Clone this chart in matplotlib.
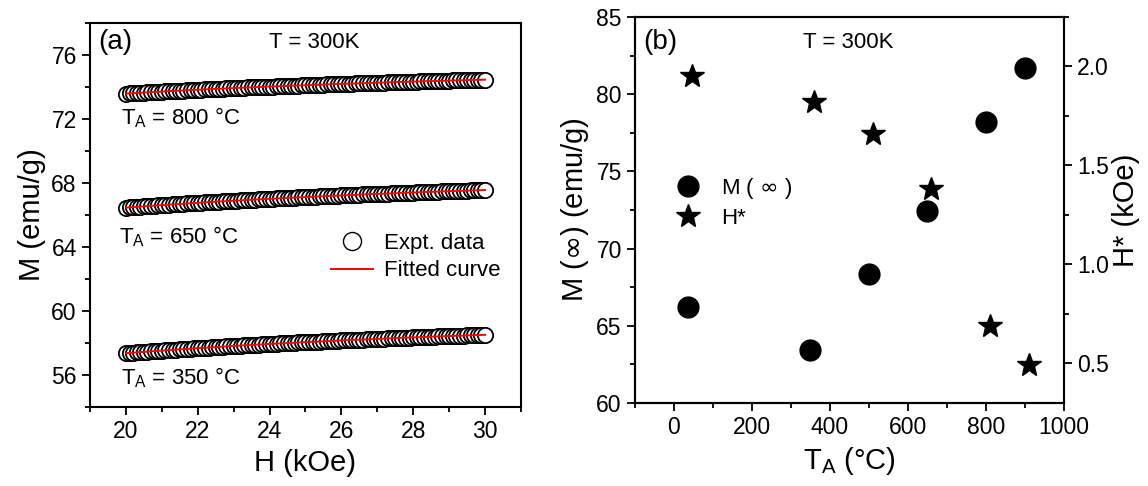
import numpy as np
import matplotlib
matplotlib.use('Agg')
import matplotlib.pyplot as plt
from matplotlib.ticker import MultipleLocator

plt.rcParams['font.family'] = ['Liberation Sans', 'DejaVu Sans']

# panel (a): M vs H at 300 K, field grid 20.0 ... 30.0 kOe in 0.1 steps
H = np.round(np.arange(200, 301) / 10.0, 1)

M_800 = [73.58, 73.59, 73.61, 73.62, 73.63, 73.64, 73.66, 73.67, 73.68, 73.69,
         73.70, 73.72, 73.73, 73.74, 73.75, 73.76, 73.77, 73.78, 73.79, 73.81,
         73.82, 73.83, 73.84, 73.85, 73.86, 73.87, 73.88, 73.89, 73.90, 73.91,
         73.92, 73.93, 73.94, 73.95, 73.96, 73.97, 73.98, 73.99, 74.00, 74.01,
         74.02, 74.02, 74.03, 74.04, 74.05, 74.06, 74.07, 74.08, 74.08, 74.09,
         74.10, 74.11, 74.12, 74.13, 74.13, 74.14, 74.15, 74.16, 74.17, 74.17,
         74.18, 74.19, 74.20, 74.20, 74.21, 74.22, 74.23, 74.23, 74.24, 74.25,
         74.26, 74.26, 74.27, 74.28, 74.28, 74.29, 74.30, 74.30, 74.31, 74.32,
         74.33, 74.33, 74.34, 74.35, 74.35, 74.36, 74.36, 74.37, 74.38, 74.38,
         74.39, 74.40, 74.40, 74.41, 74.41, 74.42, 74.43, 74.43, 74.44, 74.44,
         74.45]

M_650 = [66.45, 66.47, 66.48, 66.50, 66.51, 66.53, 66.54, 66.56, 66.58, 66.59,
         66.61, 66.62, 66.64, 66.65, 66.66, 66.68, 66.69, 66.71, 66.72, 66.74,
         66.75, 66.76, 66.78, 66.79, 66.80, 66.82, 66.83, 66.84, 66.85, 66.87,
         66.88, 66.89, 66.90, 66.92, 66.93, 66.94, 66.95, 66.96, 66.98, 66.99,
         67.00, 67.01, 67.02, 67.03, 67.04, 67.06, 67.07, 67.08, 67.09, 67.10,
         67.11, 67.12, 67.13, 67.14, 67.15, 67.16, 67.17, 67.18, 67.19, 67.20,
         67.21, 67.22, 67.23, 67.24, 67.25, 67.26, 67.27, 67.28, 67.29, 67.30,
         67.31, 67.31, 67.32, 67.33, 67.34, 67.35, 67.36, 67.37, 67.38, 67.38,
         67.39, 67.40, 67.41, 67.42, 67.43, 67.43, 67.44, 67.45, 67.46, 67.47,
         67.47, 67.48, 67.49, 67.50, 67.50, 67.51, 67.52, 67.53, 67.53, 67.54,
         67.55]

M_350 = [57.35, 57.37, 57.38, 57.40, 57.42, 57.43, 57.45, 57.47, 57.48, 57.50,
         57.51, 57.53, 57.54, 57.56, 57.57, 57.59, 57.60, 57.62, 57.63, 57.65,
         57.66, 57.68, 57.69, 57.70, 57.72, 57.73, 57.75, 57.76, 57.77, 57.79,
         57.80, 57.81, 57.83, 57.84, 57.85, 57.86, 57.88, 57.89, 57.90, 57.91,
         57.93, 57.94, 57.95, 57.96, 57.97, 57.98, 57.99, 58.01, 58.02, 58.03,
         58.04, 58.05, 58.06, 58.07, 58.08, 58.09, 58.10, 58.11, 58.12, 58.14,
         58.15, 58.16, 58.17, 58.18, 58.19, 58.19, 58.20, 58.21, 58.22, 58.23,
         58.24, 58.25, 58.26, 58.27, 58.28, 58.29, 58.30, 58.31, 58.32, 58.33,
         58.34, 58.34, 58.35, 58.36, 58.37, 58.38, 58.39, 58.40, 58.40, 58.41,
         58.42, 58.43, 58.44, 58.44, 58.45, 58.46, 58.47, 58.48, 58.48, 58.49,
         58.50]

# panel (b): fit parameters vs annealing temperature
TA_M = [35, 350, 500, 650, 800, 900]
M_inf = [66.2, 63.4, 68.35, 72.45, 78.2, 81.7]
TA_H = [45, 360, 510, 660, 810, 910]
H_star = [1.95, 1.82, 1.66, 1.38, 0.69, 0.49]

FS = 16
TICK_FS = 16.5
LAB_FS = 21


def style_axis(ax):
    for s in ax.spines.values():
        s.set_linewidth(1.5)
    ax.tick_params(which='major', direction='out', length=6, width=1.3, labelsize=TICK_FS)
    ax.tick_params(which='minor', direction='out', length=3.5, width=1.3)


fig = plt.figure(figsize=(11.48, 4.86), dpi=100)

# ---- (a)
ax1 = fig.add_axes([0.0784, 0.163, 0.3754, 0.790])
for M in [M_800, M_650, M_350]:
    ax1.plot(H, M, 'o', ms=11, mfc='white', mec='black', mew=1.3)
    ax1.plot(H, M, '-', color='red', lw=1.4)
ax1.set_xlim(19, 31)
ax1.set_ylim(54, 78)
ax1.xaxis.set_major_locator(MultipleLocator(2))
ax1.xaxis.set_minor_locator(MultipleLocator(1))
ax1.yaxis.set_minor_locator(MultipleLocator(2))
ax1.set_yticks([56, 60, 64, 68, 72, 76])
style_axis(ax1)
ax1.set_xlabel('H (kOe)', fontsize=LAB_FS)
ax1.set_ylabel('M (emu/g)', fontsize=LAB_FS)

ax1.text(0.02, 0.95, '(a)', transform=ax1.transAxes, fontsize=20, va='center')
ax1.text(0.52, 0.95, 'T = 300K', transform=ax1.transAxes, fontsize=FS, va='center', ha='center')
ax1.text(19.87, 72.1, r'T$_\mathregular{A}$ = 800 °C', fontsize=FS, va='center')
ax1.text(19.82, 64.65, r'T$_\mathregular{A}$ = 650 °C', fontsize=FS, va='center')
ax1.text(19.87, 55.8, r'T$_\mathregular{A}$ = 350 °C', fontsize=FS, va='center')

h1, = ax1.plot([], [], 'o', ms=13, mfc='white', mec='black', mew=1.0)
h2, = ax1.plot([], [], '-', color='red', lw=1.4)
ax1.legend([h1, h2], ['Expt. data', 'Fitted curve'], loc='center right',
           bbox_to_anchor=(1.0, 0.39), frameon=False, fontsize=FS,
           handlelength=1.9, handletextpad=0.5, labelspacing=0.3)

# ---- (b)
ax2 = fig.add_axes([0.5531, 0.171, 0.3737, 0.794])
ax3 = ax2.twinx()
ax2.plot(TA_M, M_inf, 'o', ms=15, color='black')
ax3.plot(TA_H, H_star, '*', ms=18, color='black')
ax2.set_xlim(-100, 1000)
ax2.set_ylim(60, 85)
ax3.set_ylim(0.3, 2.25)
ax2.xaxis.set_major_locator(MultipleLocator(200))
ax2.xaxis.set_minor_locator(MultipleLocator(100))
ax2.yaxis.set_major_locator(MultipleLocator(5))
ax2.yaxis.set_minor_locator(MultipleLocator(2.5))
ax3.yaxis.set_major_locator(MultipleLocator(0.5))
ax3.yaxis.set_minor_locator(MultipleLocator(0.25))
style_axis(ax2)
style_axis(ax3)
ax2.set_xlabel(r'T$_\mathregular{A}$ (°C)', fontsize=LAB_FS)
ax2.set_ylabel(r'M ($\infty$) (emu/g)', fontsize=LAB_FS)
ax3.set_ylabel('H* (kOe)', fontsize=LAB_FS, labelpad=2)

ax2.text(0.02, 0.935, '(b)', transform=ax2.transAxes, fontsize=20, va='center')
ax2.text(0.497, 0.935, 'T = 300K', transform=ax2.transAxes, fontsize=FS, va='center', ha='center')

la, = ax2.plot([], [], 'o', ms=15, color='black')
lb, = ax2.plot([], [], '*', ms=18, color='black')
ax2.legend([la, lb], [r'M ( $\infty$ )', 'H*'], loc='center left',
           bbox_to_anchor=(0.045, 0.52), frameon=False, fontsize=FS,
           handlelength=1.2, handletextpad=0.9, labelspacing=0.3)

fig.savefig('out.png', dpi=100)
